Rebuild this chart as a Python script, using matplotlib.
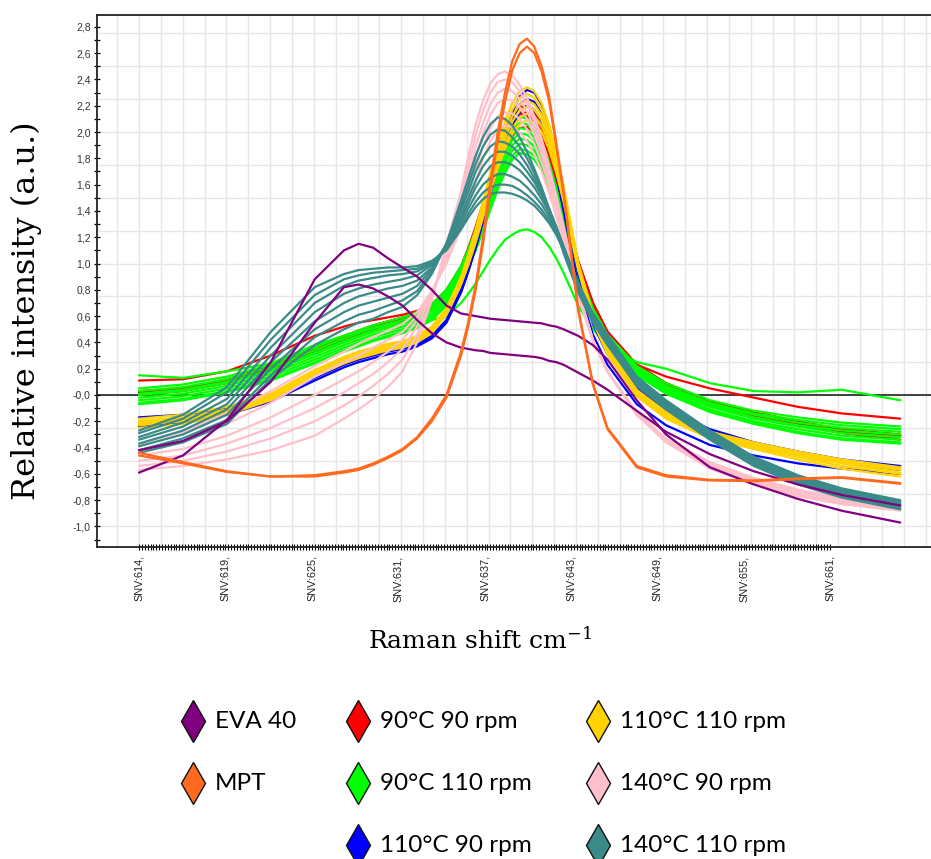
import numpy as np
import matplotlib.pyplot as plt
from matplotlib.lines import Line2D

plt.rcParams['mathtext.fontset'] = 'dejavuserif'

# Raman shift grid (cm-1) and SNV spectra
raman_shift = [614, 617, 620, 623, 626, 628, 629, 630, 631, 632, 633, 634, 635, 636, 636.5,
               637, 637.5, 638, 638.5, 639, 639.5, 640, 640.5, 641, 641.5, 642, 642.5, 643,
               644, 645, 646, 648, 650, 653, 656, 659, 662, 666]

eva40 = [
    [-0.59, -0.46, -0.19, 0.25, 0.88, 1.10, 1.15, 1.12, 1.04, 0.97, 0.90, 0.80, 0.68, 0.62, 0.61,
     0.60, 0.59, 0.58, 0.575, 0.57, 0.565, 0.56, 0.555, 0.55, 0.545, 0.53, 0.52, 0.50,
     0.45, 0.38, 0.27, -0.04, -0.30, -0.55, -0.68, -0.79, -0.88, -0.97],
    [-0.42, -0.35, -0.20, 0.10, 0.55, 0.82, 0.84, 0.81, 0.75, 0.68, 0.57, 0.47, 0.40, 0.36, 0.35,
     0.34, 0.335, 0.32, 0.315, 0.31, 0.305, 0.30, 0.295, 0.29, 0.28, 0.26, 0.25, 0.23,
     0.17, 0.11, 0.04, -0.12, -0.28, -0.45, -0.58, -0.68, -0.76, -0.84],
]

mpt = [
    [-0.44, -0.51, -0.58, -0.62, -0.61, -0.58, -0.56, -0.52, -0.47, -0.41, -0.32, -0.18, 0.0, 0.33, 0.56,
     0.84, 1.20, 1.62, 2.00, 2.30, 2.54, 2.67, 2.71, 2.65, 2.50, 2.28, 1.92, 1.55,
     0.66, 0.09, -0.25, -0.54, -0.61, -0.645, -0.65, -0.635, -0.625, -0.67],
    [-0.46, -0.52, -0.585, -0.62, -0.62, -0.59, -0.57, -0.53, -0.48, -0.42, -0.33, -0.20, -0.02, 0.30, 0.53,
     0.80, 1.15, 1.56, 1.93, 2.23, 2.47, 2.60, 2.65, 2.60, 2.46, 2.24, 1.90, 1.53,
     0.64, 0.08, -0.26, -0.55, -0.62, -0.65, -0.655, -0.64, -0.63, -0.675],
]

t90_r90 = [
    [0.11, 0.12, 0.18, 0.30, 0.45, 0.52, 0.55, 0.57, 0.59, 0.61, 0.64, 0.69, 0.80, 0.98, 1.12,
     1.28, 1.46, 1.65, 1.83, 1.98, 2.08, 2.14, 2.13, 2.08, 1.98, 1.84, 1.66, 1.46,
     0.90, 0.66, 0.44, 0.23, 0.14, 0.05, -0.02, -0.09, -0.14, -0.18],
    [0.03, 0.05, 0.11, 0.21, 0.35, 0.44, 0.48, 0.52, 0.55, 0.58, 0.62, 0.68, 0.79, 0.97, 1.10,
     1.25, 1.43, 1.62, 1.81, 1.98, 2.11, 2.19, 2.20, 2.15, 2.04, 1.88, 1.68, 1.46,
     1.02, 0.70, 0.48, 0.23, 0.09, -0.05, -0.14, -0.21, -0.27, -0.31],
    [0.01, 0.04, 0.10, 0.20, 0.34, 0.43, 0.47, 0.51, 0.54, 0.57, 0.61, 0.67, 0.78, 0.96, 1.08,
     1.22, 1.39, 1.58, 1.76, 1.92, 2.04, 2.11, 2.12, 2.08, 1.98, 1.83, 1.64, 1.43,
     1.01, 0.70, 0.48, 0.23, 0.08, -0.06, -0.15, -0.22, -0.28, -0.32],
    [0.02, 0.05, 0.12, 0.22, 0.36, 0.45, 0.49, 0.53, 0.56, 0.59, 0.62, 0.68, 0.78, 0.95, 1.07,
     1.20, 1.36, 1.54, 1.71, 1.86, 1.97, 2.03, 2.04, 2.00, 1.91, 1.77, 1.59, 1.40,
     0.99, 0.69, 0.47, 0.22, 0.07, -0.07, -0.16, -0.23, -0.29, -0.34],
    [0.0, 0.03, 0.09, 0.19, 0.33, 0.42, 0.46, 0.50, 0.53, 0.56, 0.60, 0.66, 0.77, 0.95, 1.08,
     1.23, 1.40, 1.60, 1.79, 1.95, 2.07, 2.14, 2.15, 2.10, 2.00, 1.85, 1.65, 1.44,
     1.01, 0.70, 0.48, 0.23, 0.09, -0.05, -0.13, -0.20, -0.26, -0.30],
]

t90_r110 = [
    [0.15, 0.13, 0.18, 0.24, 0.38, 0.45, 0.48, 0.51, 0.53, 0.55, 0.56, 0.57, 0.60, 0.70, 0.77,
     0.85, 0.94, 1.03, 1.11, 1.18, 1.22, 1.25, 1.26, 1.24, 1.20, 1.13, 1.04, 0.93,
     0.68, 0.50, 0.38, 0.25, 0.20, 0.09, 0.03, 0.02, 0.04, -0.04],
    [0.05, 0.08, 0.14, 0.23, 0.36, 0.45, 0.49, 0.53, 0.56, 0.59, 0.63, 0.69, 0.80, 0.98, 1.11,
     1.26, 1.43, 1.62, 1.80, 1.96, 2.07, 2.12, 2.10, 2.04, 1.93, 1.77, 1.58, 1.37,
     0.96, 0.66, 0.46, 0.22, 0.09, -0.04, -0.12, -0.17, -0.21, -0.24],
    [0.03, 0.06, 0.12, 0.21, 0.34, 0.43, 0.47, 0.51, 0.54, 0.57, 0.61, 0.67, 0.78, 0.96, 1.09,
     1.23, 1.40, 1.58, 1.76, 1.91, 2.02, 2.07, 2.06, 2.00, 1.90, 1.75, 1.56, 1.35,
     0.95, 0.65, 0.45, 0.21, 0.07, -0.06, -0.14, -0.19, -0.23, -0.26],
    [0.01, 0.04, 0.10, 0.19, 0.32, 0.41, 0.45, 0.49, 0.52, 0.55, 0.59, 0.65, 0.76, 0.94, 1.07,
     1.21, 1.37, 1.55, 1.72, 1.87, 1.98, 2.03, 2.02, 1.96, 1.86, 1.72, 1.53, 1.33,
     0.93, 0.64, 0.44, 0.20, 0.06, -0.07, -0.15, -0.21, -0.25, -0.28],
    [0.0, 0.03, 0.09, 0.18, 0.31, 0.40, 0.44, 0.48, 0.51, 0.54, 0.58, 0.64, 0.75, 0.93, 1.05,
     1.19, 1.35, 1.52, 1.69, 1.83, 1.94, 1.99, 1.98, 1.93, 1.83, 1.69, 1.51, 1.31,
     0.92, 0.63, 0.43, 0.19, 0.05, -0.08, -0.17, -0.23, -0.27, -0.30],
    [-0.02, 0.01, 0.07, 0.16, 0.29, 0.38, 0.42, 0.46, 0.49, 0.52, 0.56, 0.62, 0.73, 0.91, 1.03,
     1.17, 1.32, 1.49, 1.65, 1.79, 1.90, 1.95, 1.94, 1.89, 1.80, 1.66, 1.49, 1.29,
     0.91, 0.62, 0.42, 0.18, 0.04, -0.09, -0.18, -0.24, -0.29, -0.32],
    [-0.04, -0.01, 0.05, 0.14, 0.27, 0.36, 0.40, 0.44, 0.47, 0.50, 0.54, 0.60, 0.71, 0.89, 1.01,
     1.15, 1.30, 1.46, 1.62, 1.76, 1.86, 1.91, 1.90, 1.86, 1.77, 1.64, 1.47, 1.28,
     0.90, 0.61, 0.41, 0.17, 0.03, -0.11, -0.20, -0.26, -0.31, -0.34],
    [-0.06, -0.03, 0.03, 0.12, 0.25, 0.34, 0.38, 0.42, 0.45, 0.48, 0.52, 0.58, 0.69, 0.87, 0.99,
     1.12, 1.27, 1.43, 1.59, 1.72, 1.82, 1.87, 1.86, 1.82, 1.74, 1.61, 1.45, 1.26,
     0.89, 0.60, 0.40, 0.16, 0.02, -0.12, -0.21, -0.28, -0.33, -0.36],
    [-0.07, -0.04, 0.02, 0.11, 0.24, 0.33, 0.37, 0.41, 0.44, 0.47, 0.51, 0.57, 0.68, 0.85, 0.97,
     1.10, 1.25, 1.41, 1.56, 1.69, 1.79, 1.84, 1.83, 1.79, 1.71, 1.59, 1.43, 1.24,
     0.88, 0.59, 0.39, 0.15, 0.01, -0.13, -0.22, -0.29, -0.34, -0.37],
]

t110_r90 = [
    [-0.17, -0.15, -0.10, -0.01, 0.15, 0.25, 0.29, 0.32, 0.34, 0.36, 0.39, 0.45, 0.57, 0.80, 0.96,
     1.14, 1.35, 1.57, 1.79, 1.99, 2.15, 2.27, 2.32, 2.30, 2.21, 2.05, 1.83, 1.56,
     0.98, 0.59, 0.35, 0.05, -0.11, -0.26, -0.36, -0.43, -0.49, -0.54],
    [-0.24, -0.21, -0.15, -0.05, 0.11, 0.21, 0.25, 0.28, 0.31, 0.33, 0.37, 0.43, 0.55, 0.78, 0.94,
     1.12, 1.32, 1.53, 1.73, 1.91, 2.05, 2.15, 2.20, 2.17, 2.08, 1.91, 1.68, 1.40,
     0.83, 0.46, 0.23, -0.07, -0.23, -0.38, -0.46, -0.52, -0.56, -0.60],
    [-0.22, -0.19, -0.13, -0.03, 0.13, 0.23, 0.27, 0.30, 0.33, 0.35, 0.38, 0.44, 0.56, 0.79, 0.95,
     1.13, 1.33, 1.55, 1.76, 1.95, 2.10, 2.21, 2.25, 2.23, 2.14, 1.98, 1.76, 1.49,
     0.92, 0.54, 0.31, 0.01, -0.15, -0.30, -0.39, -0.46, -0.51, -0.57],
]

t110_r110 = [
    [-0.18, -0.15, -0.09, 0.01, 0.19, 0.29, 0.33, 0.36, 0.39, 0.41, 0.45, 0.52, 0.66, 0.90, 1.07,
     1.26, 1.47, 1.69, 1.90, 2.08, 2.22, 2.31, 2.34, 2.31, 2.22, 2.06, 1.85, 1.59,
     1.01, 0.61, 0.36, 0.04, -0.13, -0.28, -0.36, -0.43, -0.49, -0.55],
    [-0.20, -0.17, -0.11, 0.0, 0.18, 0.28, 0.32, 0.35, 0.38, 0.40, 0.44, 0.51, 0.65, 0.89, 1.05,
     1.24, 1.45, 1.66, 1.86, 2.03, 2.17, 2.26, 2.29, 2.26, 2.17, 2.02, 1.81, 1.56,
     0.99, 0.60, 0.35, 0.03, -0.14, -0.29, -0.37, -0.44, -0.50, -0.56],
    [-0.21, -0.18, -0.12, -0.01, 0.17, 0.27, 0.31, 0.34, 0.37, 0.39, 0.43, 0.50, 0.64, 0.88, 1.04,
     1.22, 1.42, 1.63, 1.83, 1.99, 2.12, 2.21, 2.24, 2.21, 2.13, 1.98, 1.78, 1.53,
     0.98, 0.59, 0.34, 0.02, -0.15, -0.30, -0.38, -0.45, -0.51, -0.57],
    [-0.22, -0.19, -0.13, -0.02, 0.16, 0.26, 0.30, 0.33, 0.36, 0.38, 0.42, 0.49, 0.63, 0.87, 1.02,
     1.20, 1.40, 1.60, 1.79, 1.95, 2.08, 2.16, 2.19, 2.17, 2.09, 1.95, 1.75, 1.51,
     0.97, 0.58, 0.33, 0.01, -0.16, -0.31, -0.39, -0.46, -0.52, -0.59],
    [-0.23, -0.20, -0.14, -0.03, 0.15, 0.25, 0.29, 0.32, 0.35, 0.37, 0.41, 0.48, 0.62, 0.85, 1.00,
     1.18, 1.37, 1.57, 1.76, 1.91, 2.03, 2.11, 2.14, 2.12, 2.05, 1.91, 1.72, 1.49,
     0.96, 0.57, 0.32, 0.0, -0.17, -0.32, -0.40, -0.47, -0.54, -0.60],
    [-0.25, -0.22, -0.15, -0.04, 0.14, 0.24, 0.28, 0.31, 0.34, 0.36, 0.40, 0.47, 0.61, 0.84, 0.99,
     1.16, 1.35, 1.54, 1.72, 1.87, 1.99, 2.06, 2.09, 2.07, 2.00, 1.87, 1.69, 1.47,
     0.95, 0.56, 0.31, -0.01, -0.18, -0.33, -0.41, -0.49, -0.56, -0.62],
]

t140_r90 = [
    [-0.57, -0.54, -0.49, -0.42, -0.31, -0.18, -0.11, -0.03, 0.06, 0.18, 0.40, 0.72, 1.15, 1.55, 1.82,
     2.06, 2.24, 2.37, 2.44, 2.46, 2.43, 2.36, 2.26, 2.12, 1.95, 1.74, 1.52, 1.28,
     0.80, 0.42, 0.18, -0.15, -0.36, -0.56, -0.68, -0.77, -0.83, -0.88],
    [-0.54, -0.50, -0.43, -0.33, -0.20, -0.08, -0.01, 0.07, 0.16, 0.27, 0.46, 0.74, 1.10, 1.48, 1.74,
     1.98, 2.16, 2.30, 2.38, 2.40, 2.38, 2.31, 2.21, 2.08, 1.91, 1.71, 1.49, 1.26,
     0.79, 0.42, 0.18, -0.15, -0.35, -0.55, -0.67, -0.76, -0.82, -0.87],
    [-0.50, -0.46, -0.37, -0.25, -0.10, 0.02, 0.09, 0.16, 0.25, 0.35, 0.52, 0.76, 1.06, 1.42, 1.66,
     1.89, 2.07, 2.21, 2.30, 2.33, 2.31, 2.25, 2.16, 2.03, 1.87, 1.68, 1.47, 1.24,
     0.78, 0.42, 0.18, -0.15, -0.35, -0.54, -0.66, -0.75, -0.81, -0.86],
    [-0.46, -0.41, -0.31, -0.17, 0.0, 0.12, 0.18, 0.25, 0.33, 0.42, 0.57, 0.78, 1.04, 1.37, 1.59,
     1.81, 1.99, 2.13, 2.22, 2.25, 2.24, 2.19, 2.10, 1.98, 1.83, 1.65, 1.45, 1.23,
     0.78, 0.42, 0.18, -0.14, -0.34, -0.53, -0.65, -0.74, -0.80, -0.85],
    [-0.42, -0.35, -0.22, -0.06, 0.14, 0.25, 0.30, 0.36, 0.42, 0.48, 0.60, 0.78, 1.02, 1.32, 1.52,
     1.72, 1.89, 2.03, 2.12, 2.15, 2.14, 2.10, 2.02, 1.91, 1.77, 1.60, 1.41, 1.20,
     0.77, 0.42, 0.18, -0.14, -0.34, -0.52, -0.64, -0.73, -0.79, -0.84],
    [-0.37, -0.28, -0.14, 0.03, 0.22, 0.33, 0.39, 0.44, 0.49, 0.54, 0.63, 0.79, 1.00, 1.27, 1.45,
     1.63, 1.80, 1.93, 2.02, 2.05, 2.04, 2.00, 1.93, 1.83, 1.70, 1.54, 1.36, 1.16,
     0.75, 0.41, 0.18, -0.13, -0.33, -0.51, -0.63, -0.72, -0.78, -0.82],
]

t140_r110 = [
    [-0.27, -0.15, 0.06, 0.48, 0.82, 0.92, 0.95, 0.96, 0.97, 0.97, 0.98, 1.02, 1.10, 1.26, 1.35,
     1.43, 1.49, 1.53, 1.54, 1.54, 1.53, 1.51, 1.48, 1.44, 1.38, 1.31, 1.22, 1.10,
     0.85, 0.62, 0.46, 0.14, -0.04, -0.27, -0.47, -0.61, -0.71, -0.80],
    [-0.29, -0.18, 0.02, 0.42, 0.76, 0.88, 0.91, 0.93, 0.94, 0.95, 0.96, 1.01, 1.11, 1.28, 1.38,
     1.47, 1.54, 1.58, 1.60, 1.60, 1.59, 1.56, 1.52, 1.47, 1.41, 1.33, 1.23, 1.11,
     0.85, 0.62, 0.45, 0.13, -0.05, -0.28, -0.48, -0.62, -0.72, -0.81],
    [-0.32, -0.21, -0.03, 0.36, 0.70, 0.83, 0.87, 0.89, 0.91, 0.92, 0.94, 1.00, 1.12, 1.31, 1.42,
     1.52, 1.60, 1.65, 1.68, 1.68, 1.66, 1.63, 1.58, 1.52, 1.45, 1.36, 1.25, 1.12,
     0.85, 0.61, 0.44, 0.12, -0.06, -0.29, -0.49, -0.63, -0.73, -0.82],
    [-0.34, -0.24, -0.07, 0.30, 0.63, 0.77, 0.81, 0.84, 0.86, 0.88, 0.91, 0.99, 1.13, 1.34, 1.46,
     1.58, 1.67, 1.74, 1.77, 1.77, 1.75, 1.71, 1.65, 1.58, 1.49, 1.39, 1.27, 1.13,
     0.84, 0.60, 0.43, 0.11, -0.07, -0.30, -0.50, -0.64, -0.74, -0.83],
    [-0.37, -0.27, -0.11, 0.25, 0.56, 0.70, 0.75, 0.78, 0.81, 0.83, 0.87, 0.97, 1.14, 1.37, 1.50,
     1.63, 1.74, 1.81, 1.85, 1.85, 1.82, 1.77, 1.70, 1.62, 1.52, 1.41, 1.28, 1.13,
     0.83, 0.59, 0.42, 0.10, -0.08, -0.31, -0.51, -0.65, -0.75, -0.84],
    [-0.39, -0.30, -0.15, 0.20, 0.50, 0.63, 0.68, 0.71, 0.74, 0.77, 0.83, 0.96, 1.15, 1.41, 1.55,
     1.70, 1.81, 1.89, 1.93, 1.92, 1.89, 1.83, 1.75, 1.65, 1.54, 1.42, 1.28, 1.12,
     0.82, 0.58, 0.41, 0.09, -0.09, -0.32, -0.52, -0.66, -0.76, -0.85],
    [-0.42, -0.33, -0.19, 0.15, 0.44, 0.56, 0.61, 0.64, 0.68, 0.72, 0.79, 0.94, 1.15, 1.44, 1.60,
     1.76, 1.89, 1.98, 2.02, 2.01, 1.96, 1.89, 1.80, 1.69, 1.56, 1.42, 1.27, 1.10,
     0.80, 0.57, 0.40, 0.08, -0.10, -0.33, -0.53, -0.67, -0.77, -0.86],
    [-0.44, -0.36, -0.22, 0.12, 0.38, 0.50, 0.55, 0.58, 0.63, 0.67, 0.76, 0.92, 1.15, 1.48, 1.65,
     1.82, 1.96, 2.06, 2.11, 2.10, 2.05, 1.96, 1.85, 1.72, 1.58, 1.42, 1.26, 1.08,
     0.78, 0.55, 0.38, 0.07, -0.11, -0.34, -0.54, -0.68, -0.78, -0.87],
]

# tick labels of the original software (SNV variable names)
snv_ticks = [614, 619.9, 625.8, 631.7, 637.6, 643.5, 649.4, 655.3, 661.2]
snv_labels = ['SNV:614,', 'SNV:619,', 'SNV:625,', 'SNV:631,', 'SNV:637,',
              'SNV:643,', 'SNV:649,', 'SNV:655,', 'SNV:661,']

groups = [
    ('90°C 90 rpm', t90_r90, '#ff0000'),
    ('90°C 110 rpm', t90_r110, '#00ff00'),
    ('110°C 90 rpm', t110_r90, '#0000ff'),
    ('110°C 110 rpm', t110_r110, '#ffd200'),
    ('140°C 90 rpm', t140_r90, '#ffc0cb'),
    ('140°C 110 rpm', t140_r110, '#3a8a8a'),
    ('EVA 40', eva40, '#800080'),
    ('MPT', mpt, '#ff6a1f'),
]

fig = plt.figure(figsize=(9.31, 8.59), dpi=100)
ax = fig.add_axes([97 / 931, 1 - 547 / 859, 834 / 931, 532 / 859])
ax.set_xlim(611.13, 668.1)
ax.set_ylim(-1.156, 2.89)

# light grid
for gx in np.arange(612.5075, 668, 1.4925):
    ax.axvline(gx, color='#e6e6e6', lw=1.0, zorder=0)
for gy in np.arange(-1.0, 2.8, 0.25):
    ax.axhline(gy, color='#e6e6e6', lw=1.0, zorder=0)
ax.axhline(0, color='#222222', lw=1.2, zorder=1)

z = 2
for name, curves, col in groups:
    for c in curves:
        ax.plot(raman_shift, c, color=col, lw=1.6, zorder=z, solid_capstyle='round')
    z += 1

for s in ['top', 'left', 'bottom']:
    ax.spines[s].set_color('#222222')
    ax.spines[s].set_linewidth(1.3)
ax.spines['right'].set_visible(False)

yt = np.round(np.arange(-1.0, 2.81, 0.2), 1)
ax.set_yticks(yt)
ax.set_yticklabels(['-0,0' if abs(v) < 1e-9 else f'{v:.1f}'.replace('.', ',') for v in yt],
                   fontsize=7.5, family='Liberation Sans', color='#333333')
ax.set_yticks(np.round(np.arange(-1.1, 2.85, 0.2), 1), minor=True)
ax.tick_params(axis='y', which='major', direction='inout', length=5, width=0.9, pad=2)
ax.tick_params(axis='y', which='minor', direction='inout', length=4, width=0.9)

ax.set_xticks(snv_ticks)
ax.set_xticklabels(snv_labels, rotation=90, fontsize=7.8, family='Liberation Sans', color='#222222')
ax.set_xticks(np.arange(614, 661.3, 5.9 / 30), minor=True)
ax.tick_params(axis='x', which='both', direction='inout', length=4, width=0.8, pad=4)

fig.text(480 / 931, 1 - 640 / 859, 'Raman shift cm$^{-1}$', family='DejaVu Serif',
         fontsize=18, ha='center', va='center')
fig.text(26 / 931, 1 - 311 / 859, 'Relative intensity (a.u.)', family='DejaVu Serif',
         fontsize=23, rotation=90, ha='center', va='center')

# legend laid out as in the original: 2 / 3 / 3 entries per column
legend_cols = [['EVA 40', 'MPT'],
               ['90°C 90 rpm', '90°C 110 rpm', '110°C 90 rpm'],
               ['110°C 110 rpm', '140°C 90 rpm', '140°C 110 rpm']]
colors = {name: col for name, _, col in groups}
col_x = [193, 358, 598]
row_y = [721, 783, 845]
for ci, names in enumerate(legend_cols):
    for ri, name in enumerate(names):
        xf = col_x[ci] / 931
        yf = 1 - row_y[ri] / 859
        fig.add_artist(Line2D([xf], [yf], marker='d', markersize=21, markerfacecolor=colors[name],
                              markeredgecolor='#111111', markeredgewidth=1.0, linestyle='none'))
        fig.text(xf + 22 / 931, yf, name, family='Lato', fontsize=17.5, va='center', ha='left')

fig.savefig('out.png', dpi=100)
